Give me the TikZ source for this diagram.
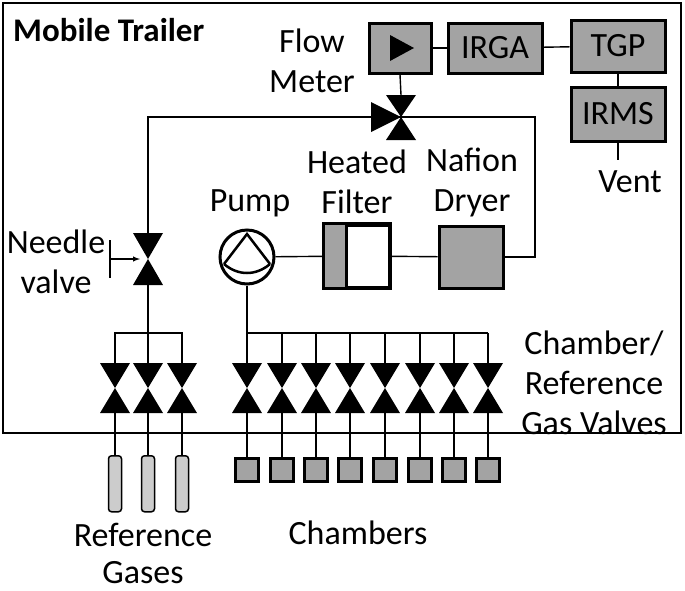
\documentclass[tikz,border=0pt]{standalone}
\usepackage{fontspec}
\setmainfont{Carlito}
\begin{document}
\begin{tikzpicture}[x=1pt,y=-1pt,
  box/.style={draw,line width=3pt,fill=gray!80!black!60},
  lbl/.style={font=\fontsize{34}{40}\selectfont,align=center,inner sep=0},
  tri/.style={fill=black},
  ln/.style={line width=1.4pt}]
\useasboundingbox (0,0) rectangle (685,590);
\draw[line width=1.5pt] (3,3) rectangle (681,433);
\node[lbl,font=\fontsize{33}{38}\selectfont\bfseries,anchor=west] (mt) at (13,30) {Mobile Trailer};
% top boxes
\node[box,minimum width=62pt,minimum height=50pt] (fm) at (400,48) {};
\fill (390,35) -- (414,48) -- (390,61) -- cycle;
\node[box,minimum width=94pt,minimum height=50pt,lbl] (irga) at (495,48) {IRGA};
\node[box,minimum width=94pt,minimum height=52pt,lbl] (tgp) at (618,46) {TGP};
\node[box,minimum width=94pt,minimum height=54pt,lbl] (irms) at (618,114) {IRMS};
\node[lbl] (vent) at (630,182) {Vent};
\draw[ln] (fm) -- (irga); \draw[ln] (irga) -- (tgp); \draw[ln] (tgp) -- (irms);
\draw[ln] (irms.south) -- (618,160);
\node[lbl] (flow) at (312,61) {Flow\\Meter};
% three-way valve
\coordinate (tv) at (401,117);
\fill (386,95) -- (416,95) -- (tv) -- cycle;
\fill (386,140) -- (416,140) -- (tv) -- cycle;
\fill (371,102) -- (371,132) -- (tv) -- cycle;
\draw[ln] (fm.south) -- (401,95);
\node[lbl] (hf) at (357,182) {Heated\\Filter};
\node[lbl] (nd) at (472,182) {Nafion\\Dryer};
\node[lbl] (pl) at (250,203) {Pump};
% filter, dryer, pump
\node[box,fill=white,minimum width=64pt,minimum height=62pt] (filt) at (357,256) {};
\fill[gray!80!black!60] (filt.north west) rectangle (346,287);
\draw[line width=3pt] (filt.north west) rectangle (filt.south east);
\draw[line width=3pt] (346,225) -- (346,287);
\node[box,minimum width=64pt,minimum height=62pt] (dry) at (471,257) {};
\node[draw,circle,line width=3pt,minimum size=54pt,inner sep=0] (pump) at (247,257) {};
\draw[line width=2.5pt] (224,264) -- (247,234) -- (270,264);
\draw[line width=2.5pt] (224,264) .. controls (238,276) and (256,276) .. (270,264);
\draw[ln] (pump) -- (filt); \draw[ln] (filt) -- (dry);
\draw[ln] (dry.east) -| (535,117) -- (tv);
\draw[ln] (tv) -- (371,117) (371,117) -- (148,117) -- (148,233);
% needle valve
\coordinate (nv) at (148,259);
\fill (133,233) -- (163,233) -- (nv) -- cycle;
\fill (133,285) -- (163,285) -- (nv) -- cycle;
\draw[ln] (110,240) -- (110,278);
\draw[ln,-latex] (110,259) -- (140,259);
\node[lbl] (nvl) at (56,262) {Needle\\valve};
\draw[ln] (148,285) -- (148,333);
\draw[ln] (115,363) |- (182,333) -- (182,363);
\draw[ln] (pump.south) -- (247,333) -- (488,333);
\foreach \x [count=\i] in {115,148,182} {
  \fill (\x-15,363) -- (\x+15,363) -- (\x,388) -- cycle;
  \fill (\x-15,413) -- (\x+15,413) -- (\x,388) -- cycle;
  \draw[ln] (\x,413) -- (\x,455);
  \node[draw,line width=1.5pt,fill=gray!40,rounded corners=3pt,minimum width=13pt,minimum height=56pt,inner sep=0,anchor=north] (g\i) at (\x,455) {};
  \draw[ln] (\x,333) -- (\x,363);
}
\foreach \x [count=\i] in {247,282,316,350,385,420,454,488} {
  \draw[ln] (\x,333) -- (\x,363);
  \fill (\x-15,363) -- (\x+15,363) -- (\x,388) -- cycle;
  \fill (\x-15,413) -- (\x+15,413) -- (\x,388) -- cycle;
  \node[box,minimum width=23pt,minimum height=23pt,inner sep=0] (c\i) at (\x,470) {};
  \draw[ln] (\x,413) -- (c\i.north);
}
\node[lbl] (cv) at (594,383) {Chamber/\\Reference\\Gas Valves};
\node[lbl] (ch) at (358,533) {Chambers};
\node[lbl,font=\fontsize{34}{37}\selectfont] (rg) at (143,553) {Reference\\Gases};
\end{tikzpicture}
\end{document}
